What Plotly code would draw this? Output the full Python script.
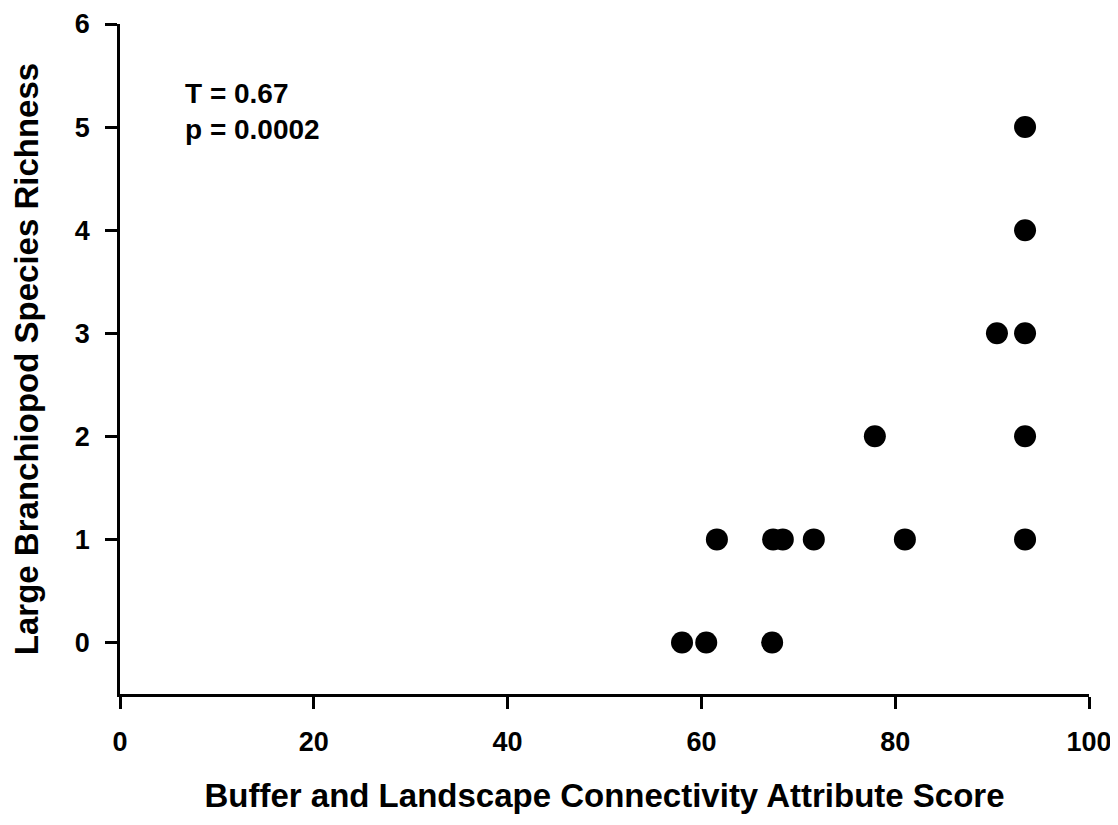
import plotly.graph_objects as go

# Data
score = [58.0, 60.5, 67.3, 61.6, 67.4, 68.4, 71.6, 81.0, 93.4, 77.9, 93.4, 90.5, 93.4, 93.4, 93.4]
richness = [0, 0, 0, 1, 1, 1, 1, 1, 1, 2, 2, 3, 3, 4, 5]
x_ticks = [0, 20, 40, 60, 80, 100]
y_ticks = [0, 1, 2, 3, 4, 5, 6]
stat_text = "T = 0.67<br>p = 0.0002"

FONT = "Liberation Sans, Arial, sans-serif"

fig = go.Figure()
fig.add_trace(go.Scatter(
    x=score, y=richness, mode="markers",
    marker=dict(color="black", size=22, line=dict(width=0)),
    showlegend=False, cliponaxis=False,
))

fig.add_annotation(
    x=6.5, y=5.5, xref="x", yref="y", text=stat_text, showarrow=False,
    xanchor="left", yanchor="top", align="left",
    font=dict(family=FONT, size=28, color="black", weight="bold"),
)

axis_common = dict(
    showline=True, linecolor="black", linewidth=2.5,
    ticks="outside", ticklen=12, tickwidth=2.5, tickcolor="black",
    showgrid=False, zeroline=False, automargin=False,
    ticklabeloverflow="allow",
    tickfont=dict(family=FONT, size=27, color="black", weight="bold"),
)

fig.update_layout(
    template="none",
    width=1110, height=817,
    margin=dict(l=112, r=29, t=16, b=131, pad=0),
    plot_bgcolor="white", paper_bgcolor="white",
    xaxis=dict(
        range=[0, 100.0001], tickvals=x_ticks, ticklabelstandoff=10,
        title=dict(text="Buffer and Landscape Connectivity Attribute Score",
                   font=dict(family=FONT, size=33, color="black", weight="bold"),
                   standoff=28),
        **axis_common,
    ),
    yaxis=dict(
        range=[-0.5, 6.0001], tickvals=y_ticks, ticklabelstandoff=10,
        title=dict(text="Large Branchiopod Species Richness",
                   font=dict(family=FONT, size=33, color="black", weight="bold"),
                   standoff=30),
        **axis_common,
    ),
)

fig.write_html("out.html")
